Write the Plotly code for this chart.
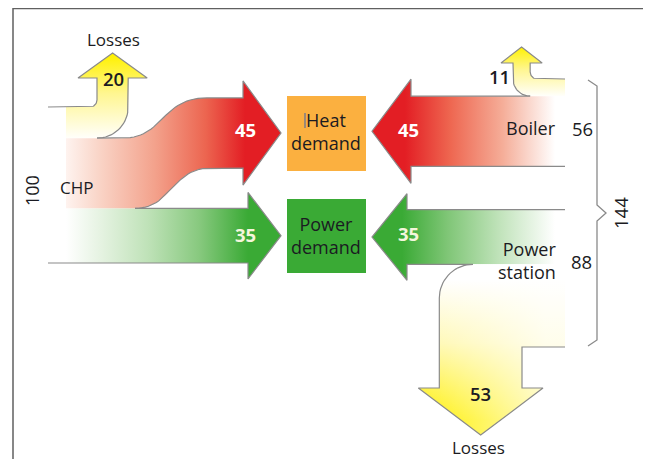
import numpy as np
import plotly.graph_objects as go

# ---- data ----
chp_flow_names = ["Losses", "Heat", "Power"]
chp_flow_values = [20, 45, 35]          # CHP outputs, total 100
chp_input = [100]
boiler_flow_names = ["Losses", "Heat"]
boiler_flow_values = [11, 45]           # boiler outputs, total 56
station_flow_names = ["Power", "Losses"]
station_flow_values = [35, 53]          # power station outputs, total 88
separate_inputs = [56, 88]              # Boiler, Power station
separate_total = [144]

S = 1.56  # pixels per unit of energy
OFF = 8   # page body margin compensation

FONT = "Open Sans"
DARK = "#1b1b22"
LINE = "#8a8a8a"

fig = go.Figure()


def arc(cx, cy, r, a0, a1, n=18):
    a = np.radians(np.linspace(a0, a1, n))
    return list(cx + r * np.cos(a)), list(cy + r * np.sin(a))


def bez(p0, p1, p2, p3, n=30):
    t = np.linspace(0, 1, n)[:, None]
    p0, p1, p2, p3 = map(np.array, (p0, p1, p2, p3))
    pts = (1 - t) ** 3 * p0 + 3 * (1 - t) ** 2 * t * p1 + 3 * (1 - t) * t ** 2 * p2 + t ** 3 * p3
    return list(pts[:, 0]), list(pts[:, 1])


class Path:
    def __init__(self):
        self.x, self.y = [], []

    def L(self, x, y):
        self.x.append(x); self.y.append(y); return self

    def add(self, xy):
        self.x += xy[0]; self.y += xy[1]; return self


def fill(p, gtype, start, stop, cs):
    fig.add_trace(go.Scatter(
        x=p.x + [p.x[0]], y=p.y + [p.y[0]], fill="toself", mode="none",
        fillgradient=dict(type=gtype, start=start, stop=stop, colorscale=cs),
        hoverinfo="skip", showlegend=False))


def outline(p, w=1.2):
    fig.add_trace(go.Scatter(x=p.x, y=p.y, mode="lines",
                             line=dict(color=LINE, width=w),
                             hoverinfo="skip", showlegend=False))


RED_L = [[0, "#fef3ef"], [0.2, "#f9d2c4"], [0.5, "#f3a18b"], [0.78, "#ec6550"], [1, "#e31e24"]]
GRN_L = [[0, "#ffffff"], [0.2, "#e4f2e0"], [0.45, "#bfe2b8"], [0.73, "#88c97f"], [1, "#3aaa35"]]
RED_R = [[0, "#e31e24"], [0.3, "#ee6650"], [0.65, "#f5ad98"], [1, "#ffffff"]]
GRN_R = [[0, "#3aaa35"], [0.3, "#80c677"], [0.65, "#c3e4bd"], [1, "#ffffff"]]
YEL_UP = [[0, "#fff100"], [0.45, "#fff690"], [1, "#ffffff"]]
YEL_DN = [[0, "#ffffff"], [0.45, "#fff8b0"], [1, "#fff000"]]
WHITE_FADE = [[0, "rgba(255,255,255,0)"], [1, "rgba(255,255,255,0.75)"]]

# ================= LEFT: CHP =================
xl_line, xl_fill = 48, 66
yb = 263
y_top = yb - chp_input[0] * S
yl = y_top + chp_flow_values[0] * S
yh = yl + chp_flow_values[1] * S

# losses (up arrow)
xi = 97
xo = xi + chp_flow_values[0] * S
hb, ht, he = 78, 53, 19
lp = Path().L(xl_fill, y_top).L(xi - 7, y_top).add(arc(xi - 7, y_top - 7, 7, 90, 0)) \
    .L(xi, hb).L(xi - he, hb).L((xi + xo) / 2, ht).L(xo + he, hb).L(xo, hb) \
    .add(arc(xi, y_top, xo - xi, 0, 90)).L(xl_fill, yl)
fill(lp, "vertical", 55, 140, YEL_UP)
lo = Path().L(xl_line, y_top).L(xi - 7, y_top).add(arc(xi - 7, y_top - 7, 7, 90, 0)) \
    .L(xi, hb).L(xi - he, hb).L((xi + xo) / 2, ht).L(xo + he, hb).L(xo, hb) \
    .add(arc(xi, y_top, xo - xi, 0, 90))
outline(lo)

# heat (red) arrow
ab, at, ae = 243, 281, 17
yc = 133
h_top, h_bot = yc - chp_flow_values[1] * S / 2, yc + chp_flow_values[1] * S / 2
rp = Path().L(xl_fill, yl).L(122, yl).add(bez((122, yl), (165, yl), (160, h_top), (207, h_top))) \
    .L(ab, h_top).L(ab, h_top - ae).L(at, yc).L(ab, h_bot + ae).L(ab, h_bot).L(210, h_bot) \
    .add(bez((210, h_bot), (172, h_bot), (172, yh), (135, yh))).L(xl_fill, yh)
fill(rp, "horizontal", xl_fill, 245, RED_L)
ro = Path().L(xi, yl).L(122, yl).add(bez((122, yl), (165, yl), (160, h_top), (207, h_top))) \
    .L(ab, h_top).L(ab, h_top - ae).L(at, yc).L(ab, h_bot + ae).L(ab, h_bot).L(210, h_bot) \
    .add(bez((210, h_bot), (172, h_bot), (172, yh), (135, yh)))
outline(ro)

# power (green) arrow
gb, gt, ge = 248, 281, 16
gp = Path().L(xl_fill, yh).L(gb, yh).L(gb, yh - ge).L(gt, (yh + yb) / 2).L(gb, yb + ge) \
    .L(gb, yb).L(xl_fill, yb)
fill(gp, "horizontal", xl_fill, 248, GRN_L)
go_ = Path().L(135, yh).L(gb, yh).L(gb, yh - ge).L(gt, (yh + yb) / 2).L(gb, yb + ge) \
    .L(gb, yb).L(xl_line, yb)
outline(go_)

# ================= RIGHT: Boiler + Power station =================
xR = 565
bt = 79
bl = bt + boiler_flow_values[0] * S
bh = bl + boiler_flow_values[1] * S

# boiler losses (small up arrow)
xout = 513
xin = xout + boiler_flow_values[0] * S
bhb, bht, bhe = 63, 47, 12
blp = Path().L(xR, bt).L(xin + 7, bt).add(arc(xin + 7, bt - 7, 7, 90, 180)).L(xin, bhb) \
    .L(xin + bhe, bhb).L((xin + xout) / 2, bht).L(xout - bhe, bhb).L(xout, bhb) \
    .add(arc(xin, bt, xin - xout, 180, 90)).L(xR, bl)
fill(blp, "vertical", 47, 97, YEL_UP)
blo = Path().L(xR, bt).L(xin + 7, bt).add(arc(xin + 7, bt - 7, 7, 90, 180)).L(xin, bhb) \
    .L(xin + bhe, bhb).L((xin + xout) / 2, bht).L(xout - bhe, bhb).L(xout, bhb) \
    .add(arc(xin, bt, xin - xout, 180, 90))
outline(blo)

# boiler heat (red left arrow)
rb, rt, re_ = 411, 372, 17
brp = Path().L(xR, bl).L(rb, bl).L(rb, bl - re_).L(rt, (bl + bh) / 2).L(rb, bh + re_) \
    .L(rb, bh).L(xR, bh)
fill(brp, "horizontal", 405, 555, RED_R)
bro = Path().L(xin, bl).L(rb, bl).L(rb, bl - re_).L(rt, (bl + bh) / 2).L(rb, bh + re_) \
    .L(rb, bh).L(xR, bh)
outline(bro)

# power station
sb = 347
st = sb - separate_inputs[1] * S
sp = st + station_flow_values[0] * S
pb, pt, pe = 407, 372, 16
sgp = Path().L(xR, st).L(pb, st).L(pb, st - pe).L(pt, (st + sp) / 2).L(pb, sp + pe) \
    .L(pb, sp).L(xR, sp)
fill(sgp, "horizontal", 402, 555, GRN_R)

# station losses (big down arrow)
xr_s = 522
xl_s = xr_s - station_flow_values[1] * S
cr = 473 - xl_s
dhb, dht, dhe = 388, 435, 21
slp = Path().L(473, sp).add(arc(473, sp + cr, cr, 270, 180)).L(xl_s, dhb).L(xl_s - dhe, dhb) \
    .L((xl_s + xr_s) / 2, dht).L(xr_s + dhe, dhb).L(xr_s, dhb).L(xr_s, sb).L(xR, sb).L(xR, sp)
fill(slp, "vertical", 280, 420, YEL_DN)
fill(slp, "horizontal", 420, 545, WHITE_FADE)

sgo = Path().L(xR, st).L(pb, st).L(pb, st - pe).L(pt, (st + sp) / 2).L(pb, sp + pe) \
    .L(pb, sp).L(473, sp).add(arc(473, sp + cr, cr, 270, 180)).L(xl_s, dhb).L(xl_s - dhe, dhb) \
    .L((xl_s + xr_s) / 2, dht).L(xr_s + dhe, dhb).L(xr_s, dhb).L(xr_s, sb).L(xR, sb)
outline(sgo)

# curly brace
mid = (bt + sb) / 2
brace = Path().L(588, bt + 1).L(597, bt + 7).L(597, mid - 8).L(606, mid).L(597, mid + 8) \
    .L(597, sb - 7).L(588, sb - 1)
outline(brace, 1.3)

# ================= boxes =================
shapes = [
    dict(type="rect", x0=13, y0=8.5, x1=649.5, y1=475, line=dict(color="#606060", width=1.5)),
    dict(type="rect", x0=287, y0=96, x1=366, y1=171, fillcolor="#fbb040", line=dict(width=0)),
    dict(type="rect", x0=287, y0=199, x1=366, y1=273, fillcolor="#3aaa35", line=dict(width=0)),
    dict(type="line", x0=305, y0=113, x1=305, y1=128, line=dict(color="#5b6f9e", width=1.2)),
]

# ================= labels =================
ann = []


def txt(x, y, t, size=17, color=DARK, weight="normal", xanchor="center", align="center", angle=0):
    ann.append(dict(x=x, y=y, text=t, showarrow=False, xanchor=xanchor, yanchor="middle",
                    align=align, textangle=angle,
                    font=dict(family=FONT, size=size, color=color, weight=weight)))


txt(113, 39, "Losses", 17)
txt(113, 78, str(chp_flow_values[0]), 18.5, weight=600)
txt(245, 129, str(chp_flow_values[1]), 18.5, color="white", weight="bold")
txt(245, 234, str(chp_flow_values[2]), 18.5, color="#f4f6dc", weight="bold")
txt(76, 187, "CHP", 17)
txt(32, 191, str(chp_input[0]), 18)
txt(326, 131, "Heat<br>demand", 18)
txt(326, 235, "Power<br>demand", 18)
txt(408, 129, str(boiler_flow_values[1]), 18.5, color="white", weight="bold")
txt(408, 233, str(station_flow_values[0]), 18.5, color="#f4f6dc", weight="bold")
txt(499, 76, str(boiler_flow_values[0]), 18.5, weight=600)
txt(531, 128, "Boiler", 18)
txt(582, 128, str(separate_inputs[0]), 18.5)
txt(558, 260, "Power<br>station", 18, xanchor="right", align="right")
txt(581, 261, str(separate_inputs[1]), 18.5)
txt(620, 213, str(separate_total[0]), 18.5, angle=-90)
txt(480, 393, str(station_flow_values[1]), 18.5, weight=600)
txt(478, 447, "Losses", 17)

# fix "100" rotation
ann[5]["textangle"] = -90

fig.update_layout(
    width=651 - OFF, height=459 - OFF, autosize=False,
    margin=dict(l=0, r=0, t=0, b=0),
    paper_bgcolor="white", plot_bgcolor="white",
    xaxis=dict(range=[OFF, 651], visible=False, fixedrange=True),
    yaxis=dict(range=[459, OFF], visible=False, fixedrange=True),
    shapes=shapes, annotations=ann, showlegend=False,
)

fig.write_html("out.html")
